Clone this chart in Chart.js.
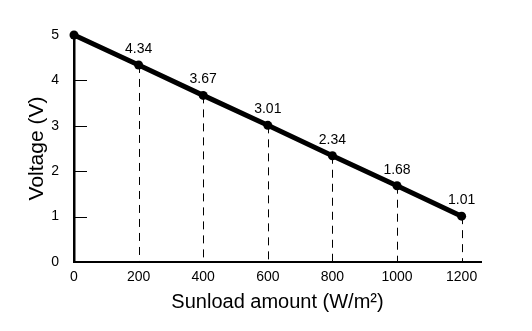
<!DOCTYPE html>
<html>
<head>
<meta charset="utf-8">
<script src="https://cdn.jsdelivr.net/npm/chart.js@4/dist/chart.umd.min.js"></script>
<style>
  html, body { margin: 0; padding: 0; background: #fff; }
  #wrap { width: 532px; height: 331px; }
</style>
</head>
<body>
<div id="wrap"><canvas id="chart"></canvas></div>
<script>
const sunload = [0, 200, 400, 600, 800, 1000, 1200];
const voltage = [5, 4.34, 3.67, 3.01, 2.34, 1.68, 1.01];
const pointLabels = ['', '4.34', '3.67', '3.01', '2.34', '1.68', '1.01'];
const xTicks = [0, 200, 400, 600, 800, 1000, 1200];
const yTicks = [0, 1, 2, 3, 4, 5];

const FONT = '"Liberation Sans", Arial, sans-serif';

// dashed drop lines, inward y ticks, value labels
const extras = {
    id: 'extras',
    beforeDatasetsDraw(chart) {
        const ctx = chart.ctx;
        const xs = chart.scales.x, ys = chart.scales.y;
        ctx.save();
        ctx.strokeStyle = '#000';
        ctx.lineWidth = 1;
        ctx.setLineDash([8, 6]);
        for (let i = 1; i < sunload.length; i++) {
            const px = Math.round(xs.getPixelForValue(sunload[i])) + 0.5;
            ctx.beginPath();
            ctx.moveTo(px, ys.getPixelForValue(voltage[i]));
            ctx.lineTo(px, ys.getPixelForValue(0));
            ctx.stroke();
        }
        ctx.setLineDash([]);
        const x0 = xs.getPixelForValue(0);
        yTicks.forEach(v => {
            if (v === 0 || v === 5) return;
            const py = Math.round(ys.getPixelForValue(v)) + 0.5;
            ctx.beginPath();
            ctx.moveTo(x0, py);
            ctx.lineTo(x0 + 13, py);
            ctx.stroke();
        });
        ctx.restore();
    },
    afterDatasetsDraw(chart) {
        const ctx = chart.ctx;
        const xs = chart.scales.x, ys = chart.scales.y;
        ctx.save();
        ctx.fillStyle = '#000';
        ctx.font = '14px ' + FONT;
        ctx.textAlign = 'center';
        ctx.textBaseline = 'middle';
        pointLabels.forEach((t, i) => {
            if (!t) return;
            ctx.fillText(t, xs.getPixelForValue(sunload[i]), ys.getPixelForValue(voltage[i]) - 16);
        });
        ctx.restore();
    }
};

new Chart(document.getElementById('chart'), {
    type: 'line',
    data: {
        datasets: [{
            data: sunload.map((x, i) => ({ x: x, y: voltage[i] })),
            borderColor: '#000',
            backgroundColor: '#000',
            borderWidth: 5,
            pointRadius: 4.5,
            pointBackgroundColor: '#000',
            pointBorderWidth: 0,
            tension: 0,
            clip: false
        }]
    },
    options: {
        responsive: true,
        maintainAspectRatio: false,
        animation: false,
        layout: { padding: { top: 35, right: 51, left: 0, bottom: 0 } },
        plugins: { legend: { display: false }, tooltip: { enabled: false } },
        scales: {
            x: {
                type: 'linear',
                min: 0,
                max: 1260,
                afterBuildTicks: s => { s.ticks = xTicks.map(v => ({ value: v })); },
                afterFit: s => { s.height = 69; },
                grid: { display: false, drawTicks: false },
                border: { display: true, color: '#000', width: 2 },
                ticks: {
                    color: '#000',
                    font: { family: FONT, size: 14 },
                    padding: 7,
                    maxRotation: 0,
                    callback: v => String(v)
                },
                title: {
                    display: true,
                    text: 'Sunload amount (W/m²)',
                    color: '#000',
                    font: { family: FONT, size: 20 },
                    padding: { top: 17, bottom: 17 }
                }
            },
            y: {
                min: 0,
                max: 5,
                afterBuildTicks: s => { s.ticks = yTicks.map(v => ({ value: v })); },
                afterFit: s => { s.width = 74; },
                grid: { display: false, drawTicks: false },
                border: { display: true, color: '#000', width: 2.5 },
                ticks: { color: '#000', font: { family: FONT, size: 14 }, padding: 15 },
                title: {
                    display: true,
                    text: 'Voltage (V)',
                    color: '#000',
                    font: { family: FONT, size: 21 },
                    padding: { top: 25, bottom: 25 }
                }
            }
        }
    },
    plugins: [extras]
});
</script>
</body>
</html>
